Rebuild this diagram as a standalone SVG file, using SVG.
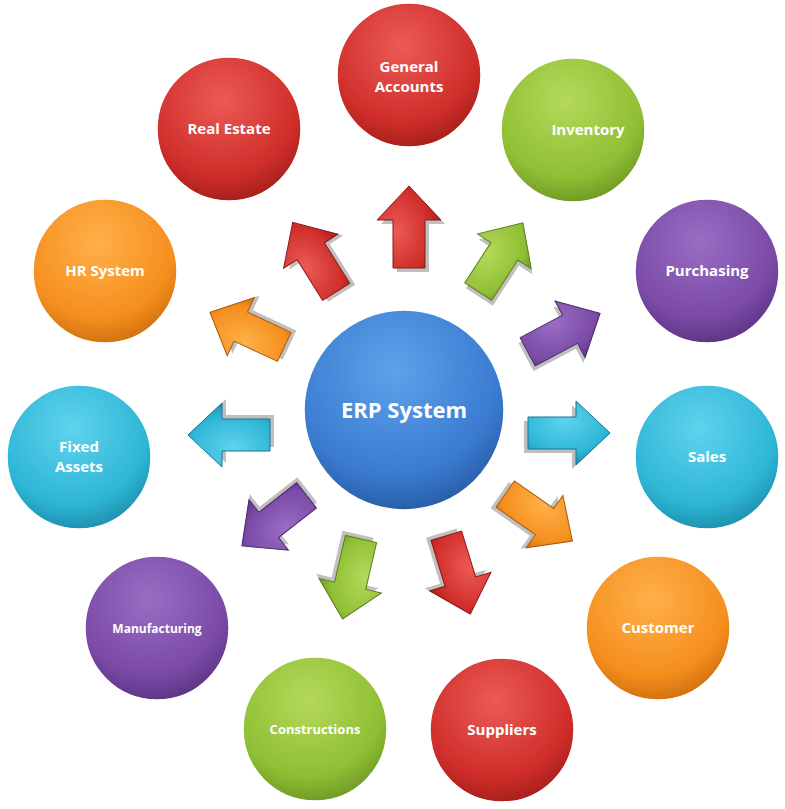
<svg xmlns="http://www.w3.org/2000/svg" width="785" height="809" viewBox="0 0 785 809">
<defs>
<radialGradient id="gRed" cx="0.45" cy="0.3" r="0.75"><stop offset="0" stop-color="#ec5a55"/><stop offset="0.7" stop-color="#cf2e2a"/><stop offset="1" stop-color="#9e1c18"/></radialGradient>
<radialGradient id="gGreen" cx="0.45" cy="0.3" r="0.75"><stop offset="0" stop-color="#b5d95a"/><stop offset="0.7" stop-color="#8fbf34"/><stop offset="1" stop-color="#6a9222"/></radialGradient>
<radialGradient id="gPurple" cx="0.45" cy="0.3" r="0.75"><stop offset="0" stop-color="#9a6dc4"/><stop offset="0.7" stop-color="#7a4aa6"/><stop offset="1" stop-color="#58307e"/></radialGradient>
<radialGradient id="gCyan" cx="0.45" cy="0.3" r="0.75"><stop offset="0" stop-color="#5fd3ee"/><stop offset="0.7" stop-color="#2eb6d6"/><stop offset="1" stop-color="#1a88a6"/></radialGradient>
<radialGradient id="gOrange" cx="0.45" cy="0.3" r="0.75"><stop offset="0" stop-color="#ffb04a"/><stop offset="0.7" stop-color="#f58f1e"/><stop offset="1" stop-color="#c96a0c"/></radialGradient>
<radialGradient id="gBlue" cx="0.45" cy="0.3" r="0.75"><stop offset="0" stop-color="#5ea2ea"/><stop offset="0.7" stop-color="#3a7bd0"/><stop offset="1" stop-color="#24579e"/></radialGradient>
<path id="arr" d="M-40,-16 L8,-16 L8,-32 L42,0 L8,32 L8,16 L-40,16 Z"/>
</defs>
<style>
.c{stroke:#fff;stroke-width:1.5}
.t{font-family:"Open Sans","Liberation Sans",sans-serif;font-weight:bold;fill:#fff;font-size:15px;text-anchor:middle}
.sh{fill:#000;opacity:0.25}
</style>
<g id="connectors">
<g transform="translate(409,228) rotate(-90)"><use href="#arr" class="sh" transform="translate(-4,4)"/><use href="#arr" fill="url(#gRed)" stroke="#8a1a16" stroke-width="1"/></g>
<g transform="translate(315,258) rotate(-122)"><use href="#arr" class="sh" transform="translate(-4,4)"/><use href="#arr" fill="url(#gRed)" stroke="#8a1a16" stroke-width="1"/></g>
<g transform="translate(500,258) rotate(-57)"><use href="#arr" class="sh" transform="translate(-4,4)"/><use href="#arr" fill="url(#gGreen)" stroke="#5c7e1c" stroke-width="1"/></g>
<g transform="translate(563,333) rotate(-28)"><use href="#arr" class="sh" transform="translate(-4,4)"/><use href="#arr" fill="url(#gPurple)" stroke="#4a2868" stroke-width="1"/></g>
<g transform="translate(568,433) rotate(0)"><use href="#arr" class="sh" transform="translate(-4,4)"/><use href="#arr" fill="url(#gCyan)" stroke="#167690" stroke-width="1"/></g>
<g transform="translate(538,517) rotate(35)"><use href="#arr" class="sh" transform="translate(-4,4)"/><use href="#arr" fill="url(#gOrange)" stroke="#aa5a0a" stroke-width="1"/></g>
<g transform="translate(458,574) rotate(73)"><use href="#arr" class="sh" transform="translate(-4,4)"/><use href="#arr" fill="url(#gRed)" stroke="#8a1a16" stroke-width="1"/></g>
<g transform="translate(352,578) rotate(103)"><use href="#arr" class="sh" transform="translate(-4,4)"/><use href="#arr" fill="url(#gGreen)" stroke="#5c7e1c" stroke-width="1"/></g>
<g transform="translate(275,520) rotate(142)"><use href="#arr" class="sh" transform="translate(-4,4)"/><use href="#arr" fill="url(#gPurple)" stroke="#4a2868" stroke-width="1"/></g>
<g transform="translate(230,435) rotate(180)"><use href="#arr" class="sh" transform="translate(-4,4)"/><use href="#arr" fill="url(#gCyan)" stroke="#167690" stroke-width="1"/></g>
<g transform="translate(248,330) rotate(-155)"><use href="#arr" class="sh" transform="translate(-4,4)"/><use href="#arr" fill="url(#gOrange)" stroke="#aa5a0a" stroke-width="1"/></g>
</g>
<g id="erp"><circle cx="404" cy="410" r="100" fill="url(#gBlue)" class="c"/><text x="404" y="418" class="t" font-size="22" style="font-size:22px">ERP System</text></g>
<g id="general"><circle cx="409" cy="75" r="72" fill="url(#gRed)" class="c"/><text x="409" y="72" class="t">General</text><text x="409" y="92" class="t">Accounts</text></g>
<g id="inventory"><circle cx="573" cy="130" r="72" fill="url(#gGreen)" class="c"/><text x="588" y="135" class="t">Inventory</text></g>
<g id="purchasing"><circle cx="707" cy="271" r="72" fill="url(#gPurple)" class="c"/><text x="707" y="276" class="t">Purchasing</text></g>
<g id="sales"><circle cx="707" cy="457" r="72" fill="url(#gCyan)" class="c"/><text x="707" y="462" class="t">Sales</text></g>
<g id="customer"><circle cx="658" cy="628" r="72" fill="url(#gOrange)" class="c"/><text x="658" y="633" class="t">Customer</text></g>
<g id="suppliers"><circle cx="502" cy="730" r="72" fill="url(#gRed)" class="c"/><text x="502" y="735" class="t">Suppliers</text></g>
<g id="constructions"><circle cx="315" cy="729" r="72" fill="url(#gGreen)" class="c"/><text x="315" y="734" class="t" style="font-size:13px">Constructions</text></g>
<g id="manufacturing"><circle cx="157" cy="628" r="72" fill="url(#gPurple)" class="c"/><text x="157" y="633" class="t" style="font-size:12px">Manufacturing</text></g>
<g id="fixed"><circle cx="79" cy="457" r="72" fill="url(#gCyan)" class="c"/><text x="79" y="452" class="t">Fixed</text><text x="79" y="472" class="t">Assets</text></g>
<g id="hr"><circle cx="105" cy="271" r="72" fill="url(#gOrange)" class="c"/><text x="105" y="276" class="t">HR System</text></g>
<g id="realestate"><circle cx="229" cy="129" r="72" fill="url(#gRed)" class="c"/><text x="229" y="134" class="t">Real Estate</text></g>
</svg>
